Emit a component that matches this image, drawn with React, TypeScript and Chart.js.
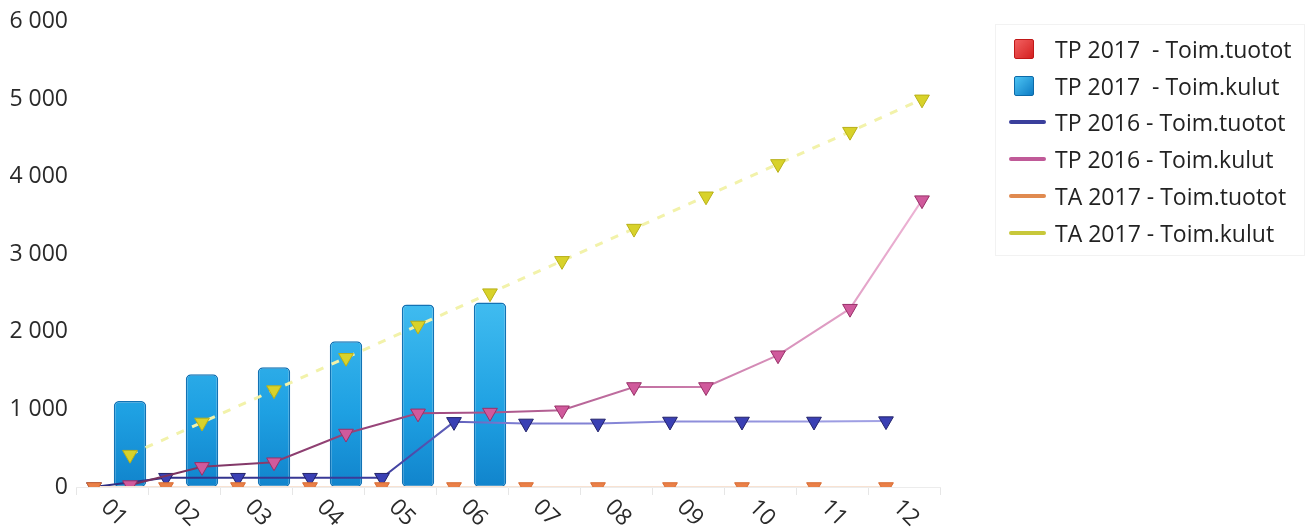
import React, { useEffect, useRef } from "react";
import { Chart, registerables } from "chart.js";

Chart.register(...registerables);

const months = ["01", "02", "03", "04", "05", "06", "07", "08", "09", "10", "11", "12"];
const tp2017Tuotot = [0, 0, 0, 0, 0, 0];
const tp2017Kulut = [1110, 1455, 1545, 1880, 2355, 2380];
const tp2016Tuotot = [0, 120, 120, 120, 120, 840, 820, 820, 845, 845, 845, 850];
const tp2016Kulut = [25, 260, 320, 690, 950, 960, 990, 1290, 1290, 1700, 2300, 3700];
const ta2017Tuotot = [0, 0, 0, 0, 0, 0, 0, 0, 0, 0, 0, 0];
const ta2017Kulut = [417, 833, 1250, 1667, 2083, 2500, 2917, 3333, 3750, 4167, 4583, 5000];
const yTicks = [0, 1000, 2000, 3000, 4000, 5000, 6000];

const legendItems = [
  { label: "TP 2017  - Toim.tuotot", kind: "box", color: "linear-gradient(135deg,#f26060,#d42020)", border: "#c01818" },
  { label: "TP 2017  - Toim.kulut", kind: "box", color: "linear-gradient(135deg,#4cc4f4,#0e7cc4)", border: "#0d6aa8" },
  { label: "TP 2016 - Toim.tuotot", kind: "line", color: "#3a3f9c" },
  { label: "TP 2016 - Toim.kulut", kind: "line", color: "#c05a98" },
  { label: "TA 2017 - Toim.tuotot", kind: "line", color: "#e08a50" },
  { label: "TA 2017 - Toim.kulut", kind: "line", color: "#c8c83a" },
];

const FONT = "'Open Sans', 'Noto Sans', sans-serif";

// slot labels: each month split into a left (tuotot) and right (kulut) slot
const slotLabels = months.flatMap((m) => [m + "a", m + "b"]);
function toSlots(values: number[], side: number) {
  const out: (number | null)[] = slotLabels.map(() => null);
  values.forEach((v, i) => {
    out[2 * i + side] = v;
  });
  return out;
}

function hGradient(ctx: any, stops: [number, string][], fallback: string) {
  const chart = ctx.chart;
  const area = chart.chartArea;
  if (!area) return fallback;
  const g = chart.ctx.createLinearGradient(area.left, 0, area.right, 0);
  stops.forEach(([o, c]) => g.addColorStop(o, c));
  return g;
}

const xLabelPlugin = {
  id: "xLabels",
  afterDraw(chart: any) {
    const scale = chart.scales.x;
    const c = chart.ctx;
    c.save();
    c.font = `23px ${FONT}`;
    c.fillStyle = "#2a2a2a";
    c.textAlign = "center";
    c.textBaseline = "middle";
    months.forEach((m, i) => {
      const x = scale.getPixelForValue(i);
      c.save();
      c.translate(x + 2, chart.chartArea.bottom + 26);
      c.rotate(Math.PI / 4);
      c.fillText(m, 0, 0);
      c.restore();
    });
    c.restore();
  },
};

export default function App() {
  const ref = useRef<HTMLCanvasElement>(null);
  useEffect(() => {
    if (!ref.current) return;
    const tri = {
      pointStyle: "triangle" as const,
      pointRotation: 180,
      pointRadius: 8.5,
      pointHoverRadius: 8.5,
      pointBorderWidth: 1,
      tension: 0,
      spanGaps: true,
      xAxisID: "xs",
    };
    const chart = new Chart(ref.current, {
      type: "bar",
      data: {
        labels: slotLabels,
        datasets: [
          {
            type: "bar",
            label: "TP 2017  - Toim.tuotot",
            data: toSlots(tp2017Tuotot, 0),
            backgroundColor: "#e03030",
            borderWidth: 0,
            grouped: false,
            barPercentage: 0.9,
            categoryPercentage: 1,
            xAxisID: "xs",
            order: 10,
          },
          {
            type: "bar",
            label: "TP 2017  - Toim.kulut",
            data: toSlots(tp2017Kulut, 1),
            backgroundColor: (ctx: any) => {
              const chart = ctx.chart;
              const area = chart.chartArea;
              if (!area) return "#1a98dc";
              const g = chart.ctx.createLinearGradient(0, area.top + 280, 0, area.bottom);
              g.addColorStop(0, "#40bcf0");
              g.addColorStop(0.6, "#1ea0e2");
              g.addColorStop(1, "#1184cc");
              return g;
            },
            borderColor: "#1272b4",
            borderWidth: 1.5,
            borderRadius: 5,
            borderSkipped: false,
            grouped: false,
            barPercentage: 0.9,
            categoryPercentage: 1,
            xAxisID: "xs",
            order: 9,
          },
          {
            type: "line",
            label: "TP 2016 - Toim.tuotot",
            data: toSlots(tp2016Tuotot, 0),
            borderColor: (ctx: any) =>
              hGradient(ctx, [[0, "#2c2c80"], [0.35, "#3c3c9c"], [0.5, "#7a7ad0"], [1, "#a8a8e8"]], "#5a5ab8"),
            borderWidth: 2,
            pointBackgroundColor: "#3a40b4",
            pointBorderColor: "#22226a",
            order: 4,
            ...tri,
          },
          {
            type: "line",
            label: "TP 2016 - Toim.kulut",
            data: toSlots(tp2016Kulut, 1),
            borderColor: (ctx: any) =>
              hGradient(ctx, [[0, "#6a2a55"], [0.4, "#a04a80"], [0.7, "#c878a8"], [1, "#f0b8d8"]], "#b05a90"),
            borderWidth: 2,
            pointBackgroundColor: "#d05a9c",
            pointBorderColor: "#983068",
            order: 3,
            ...tri,
          },
          {
            type: "line",
            label: "TA 2017 - Toim.tuotot",
            data: toSlots(ta2017Tuotot, 0),
            borderColor: "#f8e2d2",
            borderWidth: 2,
            pointBackgroundColor: "#ea8048",
            pointBorderColor: "#d86a30",
            order: 1,
            ...tri,
          },
          {
            type: "line",
            label: "TA 2017 - Toim.kulut",
            data: toSlots(ta2017Kulut, 1),
            borderColor: "#f2f2aa",
            borderWidth: 3,
            borderDash: [8, 9],
            pointBackgroundColor: "#d8d22a",
            pointBorderColor: "#b8b018",
            order: 2,
            ...tri,
          },
        ] as any,
      },
      options: {
        responsive: false,
        animation: false,
        layout: { padding: { top: 20, right: 369, left: 0, bottom: 0 } },
        plugins: {
          legend: { display: false },
          tooltip: { enabled: false },
        },
        scales: {
          x: {
            type: "category",
            labels: months,
            offset: true,
            position: "bottom",
            grid: {
              offset: true,
              drawOnChartArea: false,
              drawTicks: true,
              tickLength: 8,
              color: "#e6e6e6",
            },
            border: { display: true, color: "#ececec" },
            ticks: { display: false },
            afterFit: (s: any) => {
              s.height = 45;
            },
          },
          xs: {
            type: "category",
            labels: slotLabels,
            offset: true,
            display: false,
          },
          y: {
            min: 0,
            max: 6000,
            afterBuildTicks: (s: any) => {
              s.ticks = yTicks.map((v) => ({ value: v }));
            },
            grid: { display: false, drawTicks: false },
            border: { display: false },
            ticks: {
              padding: 8,
              color: "#2a2a2a",
              font: { family: FONT, size: 23 },
              callback: (v: any) => String(v).replace(/\B(?=(\d{3})+(?!\d))/g, "\u00a0"),
            },
            afterFit: (s: any) => {
              s.width = 76;
            },
          },
        },
      } as any,
      plugins: [xLabelPlugin],
    });
    return () => chart.destroy();
  }, []);

  return (
    <div style={{ position: "fixed", left: 0, top: 0, width: 1309, height: 532, background: "#fff" }}>
      <canvas ref={ref} width={1309} height={532} style={{ position: "absolute", left: 0, top: 0 }} />
      <div
        style={{
          position: "absolute",
          left: 995,
          top: 24,
          width: 310,
          height: 232,
          border: "1px solid #f2f2f2",
          boxSizing: "border-box",
          fontFamily: FONT,
          fontSize: 23,
          color: "#222",
        }}
      >
        {legendItems.map((it, i) => (
          <div
            key={it.label}
            style={{ position: "absolute", left: 0, top: 9 + i * 36.7, height: 30, width: 310 }}
          >
            {it.kind === "box" ? (
              <div
                style={{
                  position: "absolute",
                  left: 18,
                  top: 5,
                  width: 20,
                  height: 20,
                  background: it.color,
                  border: `1px solid ${it.border}`,
                  boxSizing: "border-box",
                  borderRadius: 2,
                }}
              />
            ) : (
              <div
                style={{
                  position: "absolute",
                  left: 13,
                  top: 13,
                  width: 37,
                  height: 4,
                  borderRadius: 2,
                  background: it.color,
                }}
              />
            )}
            <span
              style={{
                position: "absolute",
                left: 59,
                top: 0,
                lineHeight: "30px",
                whiteSpace: "pre",
              }}
            >
              {it.label}
            </span>
          </div>
        ))}
      </div>
    </div>
  );
}
